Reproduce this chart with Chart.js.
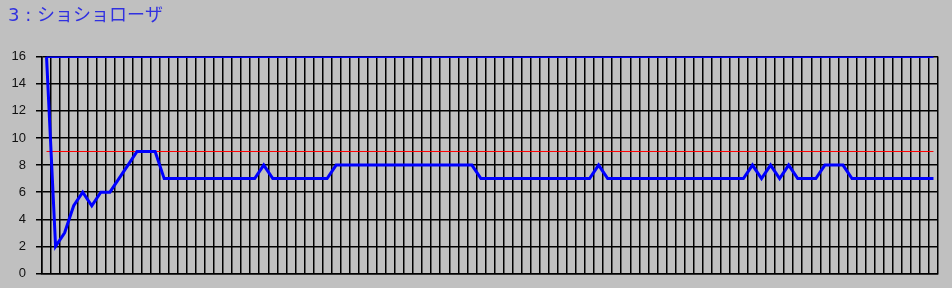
<!DOCTYPE html>
<html>
<head>
<meta charset="utf-8">
<script src="https://cdn.jsdelivr.net/npm/chart.js@4.4.1/dist/chart.umd.min.js"></script>
<style>
  html, body { margin: 0; padding: 0; background: #c0c0c0; }
  #wrap { width: 952px; height: 288px; position: relative; }
</style>
</head>
<body>
<div id="wrap"><canvas id="chart"></canvas></div>
<script>
// Chart values
const titleText = '3 : ショショローザ';

// main series, one value per category (99 points)
const mainValues = [
  16, 2, 3, 5, 6, 5, 6, 6, 7, 8, 9, 9, 9, 7,
  7, 7, 7, 7, 7, 7, 7, 7, 7, 7,
  8,
  7, 7, 7, 7, 7, 7, 7,
  8, 8, 8, 8, 8, 8, 8, 8, 8, 8, 8, 8, 8, 8, 8, 8,
  7, 7, 7, 7, 7, 7, 7, 7, 7, 7, 7, 7, 7,
  8,
  7, 7, 7, 7, 7, 7, 7, 7, 7, 7, 7, 7, 7, 7, 7, 7,
  8, 7, 8, 7, 8,
  7, 7, 7,
  8, 8, 8,
  7, 7, 7, 7, 7, 7, 7, 7, 7, 7
];

// categories: one per point
const categories = mainValues.map((v, i) => String(i + 1));

// horizontal reference lines
const redLimit = 9;
const upperLimit = 16;

const yMin = 0;
const yMax = 16;
const yStep = 2;

const firstCat = categories[0];
const lastCat = categories[categories.length - 1];

const gridColor = '#000';

new Chart(document.getElementById('chart'), {
  type: 'line',
  data: {
    labels: categories,
    datasets: [
      {
        label: 'main',
        data: mainValues,
        borderColor: '#0000ff',
        borderWidth: 3,
        pointRadius: 0,
        tension: 0
      },
      {
        label: 'upper',
        data: [{ x: firstCat, y: upperLimit }, { x: lastCat, y: upperLimit }],
        borderColor: '#0000ff',
        borderWidth: 3,
        pointRadius: 0
      },
      {
        label: 'limit',
        data: [{ x: firstCat, y: redLimit }, { x: lastCat, y: redLimit }],
        borderColor: '#ff0000',
        borderWidth: 1,
        pointRadius: 0
      }
    ]
  },
  options: {
    responsive: true,
    maintainAspectRatio: false,
    animation: false,
    layout: { padding: { left: 8, right: 14, top: 0, bottom: 14.5 } },
    plugins: {
      legend: { display: false },
      tooltip: { enabled: false },
      title: {
        display: true,
        text: titleText,
        align: 'start',
        color: '#3030e0',
        font: { family: '"DejaVu Sans", "Noto Sans CJK JP", sans-serif', size: 18, weight: 'normal', lineHeight: 1.2 },
        padding: { top: 6, bottom: 29 }
      }
    },
    scales: {
      x: {
        offset: true,
        grid: { offset: true, color: gridColor, lineWidth: 1.5, drawTicks: false },
        border: { display: true, color: gridColor, width: 1.5 },
        ticks: { display: false }
      },
      y: {
        min: yMin,
        max: yMax,
        afterFit: (scale) => {
          // fixed axis width, and no extra room reserved for the end labels
          scale.width = 34;
          scale.paddingTop = 0;
          scale.paddingBottom = 0;
        },
        ticks: {
          stepSize: yStep,
          color: '#111',
          padding: 10,
          font: { family: '"Liberation Sans", Arial, sans-serif', size: 13 }
        },
        grid: { color: gridColor, lineWidth: 1.5, tickLength: 6 },
        border: { display: true, color: gridColor, width: 1.5 }
      }
    }
  }
});
</script>
</body>
</html>
